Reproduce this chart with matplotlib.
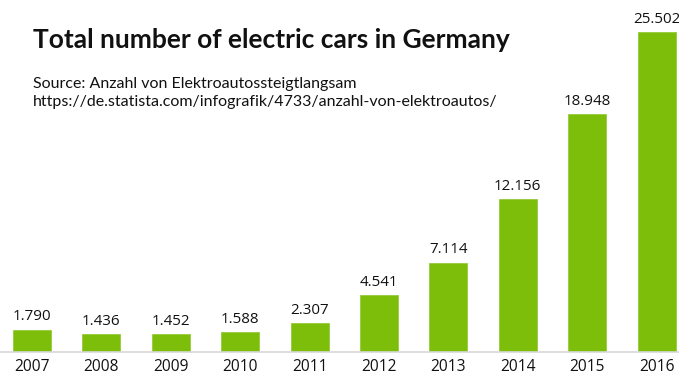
import matplotlib
matplotlib.use('Agg')
import matplotlib.pyplot as plt

years  = ['2007', '2008', '2009', '2010', '2011', '2012', '2013', '2014', '2015', '2016']
cars   = [1790, 1436, 1452, 1588, 2307, 4541, 7114, 12156, 18948, 25502]
labels = ['1.790', '1.436', '1.452', '1.588', '2.307', '4.541', '7.114', '12.156', '18.948', '25.502']

GREEN = '#7dbe0b'

fig = plt.figure(figsize=(6.79, 3.74), dpi=100)
ax  = fig.add_axes([0, 22/374, 1, 352/374])

x = range(len(years))
ax.bar(x, cars, width=0.55, color=GREEN, edgecolor='#95cc3a', linewidth=0.6)
for i, v in enumerate(cars):
    ax.text(i, v + 420, labels[i], ha='center', va='bottom', fontsize=10.9,
            family='Open Sans', color='#111111')

ax.set_xlim(-32/69.4, (679-32)/69.4)
ax.set_ylim(0, 25502*352/320)
ax.set_xticks(list(x))
ax.set_xticklabels(years, family='Open Sans', fontsize=11.2, color='#111111')
ax.tick_params(axis='x', length=0, pad=5)
ax.set_yticks([])
for s in ['top', 'left', 'right']:
    ax.spines[s].set_visible(False)
ax.spines['bottom'].set_color('#d8d8d8')
ax.spines['bottom'].set_linewidth(1.2)

fig.text(33/679, 1 - 48/374, 'Total number of electric cars in Germany',
         family='Lato', fontweight='bold', fontsize=19, color='#111111', va='baseline')
fig.text(33/679, 1 - 88/374, 'Source: Anzahl von Elektroautossteigtlangsam',
         family='Lato', fontsize=11.5, color='#111111', va='baseline')
fig.text(33/679, 1 - 106/374, 'https://de.statista.com/infografik/4733/anzahl-von-elektroautos/',
         family='Lato', fontsize=11.5, color='#111111', va='baseline')

fig.savefig('out.png', dpi=100)
